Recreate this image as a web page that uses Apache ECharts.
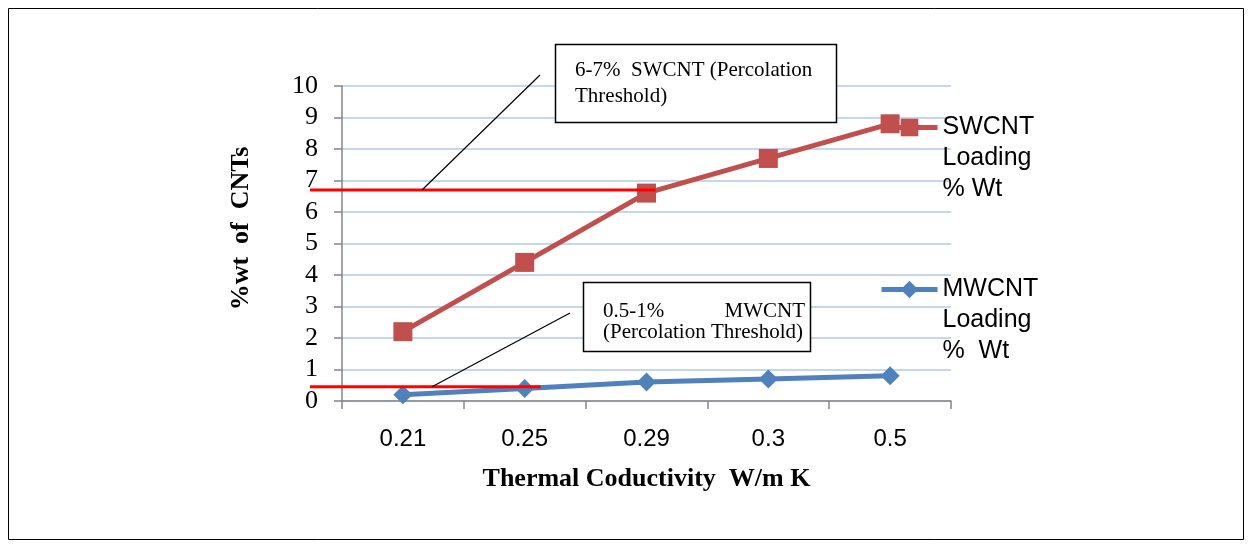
<!DOCTYPE html>
<html>
<head>
<meta charset="utf-8">
<script src="https://cdn.jsdelivr.net/npm/echarts@6/dist/echarts.min.js"></script>
<style>
html, body { margin: 0; padding: 0; background: #fff; }
#main { width: 1252px; height: 548px; }
</style>
</head>
<body>
<div id="main"></div>
<script>
// categories and values
var categories = ['0.21', '0.25', '0.29', '0.3', '0.5'];
var swcnt = [2.2, 4.4, 6.6, 7.7, 8.8];
var mwcnt = [0.2, 0.4, 0.6, 0.7, 0.8];
// percolation thresholds drawn as red lines: [value, category where the line stops]
var swThreshold = [6.7, '0.29'];
var mwThreshold = [0.45, '0.25'];

var serif = '"Liberation Serif", "Times New Roman", serif';
var sans = '"Liberation Sans", Arial, sans-serif';

var chart = echarts.init(document.getElementById('main'));

// two blank lines first so the icon sits level with the first text line
var legendText = {
    'SWCNT Loading % Wt': '\n\nSWCNT\nLoading\n% Wt',
    'MWCNT Loading % Wt': '\n\nMWCNT\nLoading\n%  Wt'
};

var option = {
    backgroundColor: '#fff',
    animation: false,
    grid: { left: 342, right: 301, top: 86, bottom: 147 },
    legend: [
        {
            data: ['SWCNT Loading % Wt'],
            left: 874, top: 45,
            itemWidth: 56, itemHeight: 22, itemGap: 0,
            lineStyle: { width: 5 },
            formatter: function (n) { return legendText[n]; },
            textStyle: { fontFamily: sans, fontSize: 25, color: '#000', lineHeight: 31 }
        },
        {
            data: ['MWCNT Loading % Wt'],
            left: 874, top: 207,
            itemWidth: 56, itemHeight: 22, itemGap: 0,
            lineStyle: { width: 5 },
            formatter: function (n) { return legendText[n]; },
            textStyle: { fontFamily: sans, fontSize: 25, color: '#000', lineHeight: 31 }
        }
    ],
    xAxis: {
        type: 'category',
        data: categories,
        boundaryGap: true,
        name: 'Thermal Coductivity  W/m K',
        nameLocation: 'middle',
        nameGap: 65,
        nameTextStyle: { fontFamily: serif, fontSize: 26, fontWeight: 'bold', color: '#000' },
        axisLine: { lineStyle: { color: '#868686', width: 1.5 } },
        axisTick: { show: true, length: 8, alignWithLabel: false, lineStyle: { color: '#868686', width: 1.5 } },
        axisLabel: { fontFamily: sans, fontSize: 24, color: '#000', margin: 26 },
        splitLine: { show: false }
    },
    yAxis: {
        type: 'value',
        min: 0, max: 10, interval: 1,
        name: '%wt  of  CNTs',
        nameLocation: 'middle',
        nameGap: 88,
        nameRotate: 90,
        nameTextStyle: { fontFamily: serif, fontSize: 26, fontWeight: 'bold', color: '#000', padding: [0, 0, 0, 30] },
        axisLine: { show: true, lineStyle: { color: '#868686', width: 1.5 } },
        axisTick: { show: true, length: 8, lineStyle: { color: '#868686', width: 1.5 } },
        axisLabel: { fontFamily: serif, fontSize: 26, color: '#000', margin: 24 },
        splitLine: { lineStyle: { color: '#B3C8E6', width: 1.5 } }
    },
    series: [
        {
            name: 'SWCNT Loading % Wt',
            type: 'line',
            data: swcnt,
            symbol: 'rect',
            symbolSize: 19,
            color: '#C0504D',
            lineStyle: { width: 5, color: '#C0504D' },
            itemStyle: { color: '#C0504D' },
            z: 3
        },
        {
            name: 'MWCNT Loading % Wt',
            type: 'line',
            data: mwcnt,
            symbol: 'diamond',
            symbolSize: 19,
            color: '#4F81BD',
            lineStyle: { width: 5, color: '#4F81BD' },
            itemStyle: { color: '#4F81BD' },
            z: 3
        }
    ]
};
chart.setOption(option);

// annotations: red threshold lines and callout boxes
var ySw = chart.convertToPixel({ yAxisIndex: 0 }, swThreshold[0]);
var xSwEnd = chart.convertToPixel({ xAxisIndex: 0 }, swThreshold[1]) + 9;
var yMw = chart.convertToPixel({ yAxisIndex: 0 }, mwThreshold[0]);
var xMwEnd = chart.convertToPixel({ xAxisIndex: 0 }, mwThreshold[1]) + 16;

var boxFont = '21px ' + serif;

chart.setOption({
    graphic: [
        {
            type: 'rect', z: 100,
            shape: { x: 8.5, y: 8.5, width: 1235, height: 531 },
            style: { fill: 'none', stroke: '#000', lineWidth: 1 }
        },
        {
            type: 'line', z: 10,
            shape: { x1: 310, y1: ySw, x2: xSwEnd, y2: ySw },
            style: { stroke: '#FF0000', lineWidth: 3 }
        },
        {
            type: 'line', z: 10,
            shape: { x1: 310, y1: yMw, x2: xMwEnd, y2: yMw },
            style: { stroke: '#FF0000', lineWidth: 3 }
        },
        {
            type: 'line', z: 11,
            shape: { x1: 422, y1: ySw, x2: 540, y2: 75 },
            style: { stroke: '#000', lineWidth: 1.2 }
        },
        {
            type: 'line', z: 11,
            shape: { x1: 432, y1: yMw, x2: 570, y2: 313 },
            style: { stroke: '#000', lineWidth: 1.2 }
        },
        {
            type: 'rect', z: 12,
            shape: { x: 555.5, y: 44.5, width: 281, height: 78 },
            style: { fill: '#fff', stroke: '#000', lineWidth: 1.5 }
        },
        {
            type: 'text', z: 13, left: 575, top: 57,
            style: { text: '6-7%  SWCNT (Percolation\nThreshold)', font: boxFont, fill: '#000', lineHeight: 26 }
        },
        {
            type: 'rect', z: 12,
            shape: { x: 583.5, y: 282.5, width: 227, height: 69 },
            style: { fill: '#fff', stroke: '#000', lineWidth: 1.5 }
        },
        {
            type: 'text', z: 13, left: 603, top: 301,
            style: { text: '0.5-1%', font: boxFont, fill: '#000' }
        },
        {
            type: 'text', z: 13, right: 1252 - 805, top: 301,
            style: { text: 'MWCNT', font: boxFont, fill: '#000' }
        },
        {
            type: 'text', z: 13, left: 603, top: 322,
            style: { text: '(Percolation Threshold)', font: boxFont, fill: '#000' }
        }
    ]
});
</script>
</body>
</html>
